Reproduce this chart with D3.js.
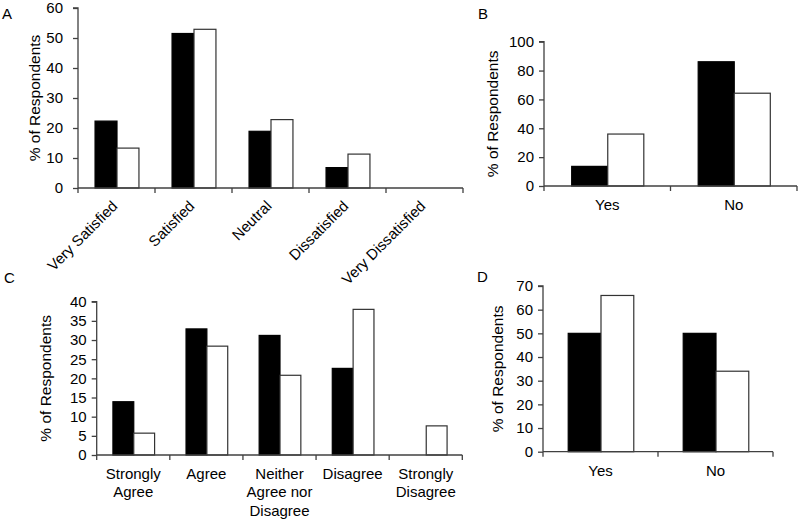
<!DOCTYPE html>
<html>
<head>
<meta charset="utf-8">
<script src="https://cdn.jsdelivr.net/npm/d3@7"></script>
<style>
  html, body { margin: 0; padding: 0; background: #fff; }
  text { font-family: "Liberation Sans", Arial, sans-serif; fill: #000; }
</style>
</head>
<body>
<svg id="chart" width="800" height="520"></svg>
<script>
// ---- Data ----
const catsA = ["Very Satisfied", "Satisfied", "Neutral", "Dissatisfied", "Very Dissatisfied"];
const blackA = [22.3, 51.5, 18.9, 6.8, 0];
const whiteA = [13.3, 52.9, 22.8, 11.3, 0];
const ticksA = [0, 10, 20, 30, 40, 50, 60];

const catsB = ["Yes", "No"];
const blackB = [13.6, 86.1];
const whiteB = [36.0, 64.3];
const ticksB = [0, 20, 40, 60, 80, 100];

const catsC = ["Strongly\nAgree", "Agree", "Neither\nAgree nor\nDisagree", "Disagree", "Strongly\nDisagree"];
const blackC = [13.9, 32.9, 31.2, 22.6, 0];
const whiteC = [5.7, 28.4, 20.8, 38.0, 7.6];
const ticksC = [0, 5, 10, 15, 20, 25, 30, 35, 40];

const catsD = ["Yes", "No"];
const blackD = [50, 50];
const whiteD = [66, 34];
const ticksD = [0, 10, 20, 30, 40, 50, 60, 70];

const seriesKeys = ["black", "white"];
const yTitle = "% of Respondents";

const svg = d3.select("#chart");
const AXIS_COLOR = "#404040";

function panel(cfg) {
  const g = svg.append("g");
  const x = d3.scaleBand().domain(cfg.cats.map((c, i) => i)).range([cfg.x0, cfg.x1])
    .paddingInner(0.43).paddingOuter(0.215);
  const xs = d3.scaleBand().domain(seriesKeys).range([0, x.bandwidth()]);
  const y = d3.scaleLinear().domain([0, cfg.ticks[cfg.ticks.length - 1]]).range([cfg.yBase, cfg.yTop]);

  const rows = cfg.cats.map((c, i) => ({ i, black: cfg.black[i], white: cfg.white[i] }));

  const grp = g.selectAll("g.cat").data(rows).join("g")
    .attr("transform", d => `translate(${x(d.i)},0)`);
  grp.selectAll("rect").data(d => seriesKeys.map(k => ({ k, v: d[k] })).filter(e => e.v > 0))
    .join("rect")
    .attr("x", e => xs(e.k) + 0.5)
    .attr("width", xs.bandwidth())
    .attr("y", e => y(e.v))
    .attr("height", e => y(0) - y(e.v))
    .attr("fill", e => e.k === "black" ? "#000" : "#fff")
    .attr("stroke", e => e.k === "black" ? "#000" : "#333")
    .attr("stroke-width", 1.2);

  // y axis
  const ya = g.append("g").attr("transform", `translate(${cfg.x0},0)`)
    .call(d3.axisLeft(y).tickValues(cfg.ticks).tickSize(5).tickPadding(cfg.tickPad).tickFormat(d3.format("d")));
  ya.selectAll("path,line").attr("stroke", AXIS_COLOR).attr("stroke-width", 1.3);
  ya.select(".domain").attr("d", `M-5,${cfg.yTop}H0V${cfg.yBase}`);
  ya.selectAll("text").attr("font-size", 15).attr("font-family", "Liberation Sans, Arial, sans-serif").attr("fill", "#000");

  // x axis with ticks at category boundaries
  const bounds = d3.range(cfg.cats.length + 1).map(i => cfg.x0 + i * x.step());
  g.append("line").attr("x1", cfg.x0).attr("x2", cfg.x1).attr("y1", cfg.yBase).attr("y2", cfg.yBase)
    .attr("stroke", AXIS_COLOR).attr("stroke-width", 1.3);
  g.selectAll("line.xt").data(bounds).join("line").attr("class", "xt")
    .attr("x1", d => d).attr("x2", d => d).attr("y1", cfg.yBase).attr("y2", cfg.yBase + 5)
    .attr("stroke", AXIS_COLOR).attr("stroke-width", 1.3);

  // category labels
  const cx = i => x(i) + x.bandwidth() / 2;
  if (cfg.rotate) {
    g.selectAll("text.cl").data(cfg.cats).join("text").attr("class", "cl")
      .attr("transform", (d, i) => `translate(${cx(i) + 2},${cfg.yBase + 19}) rotate(-45)`)
      .attr("text-anchor", "end").attr("font-size", 15).text(d => d);
  } else {
    cfg.cats.forEach((c, i) => {
      const t = g.append("text").attr("text-anchor", "middle").attr("font-size", 15)
        .attr("x", cx(i)).attr("y", cfg.yBase + cfg.labelDy);
      c.split("\n").forEach((ln, j) => {
        t.append("tspan").attr("x", cx(i)).attr("dy", j === 0 ? 0 : 18.5).text(ln);
      });
    });
  }

  // y title
  g.append("text").attr("transform", `translate(${cfg.titleX},${(cfg.yTop + cfg.yBase) / 2}) rotate(-90)`)
    .attr("text-anchor", "middle").attr("font-size", 15.5).text(yTitle);

  // panel letter
  g.append("text").attr("x", cfg.lx).attr("y", cfg.ly).attr("font-size", 15).text(cfg.letter);
}

panel({ cats: catsA, black: blackA, white: whiteA, ticks: ticksA, x0: 78, x1: 463, yBase: 188, yTop: 8,
  tickPad: 10, rotate: true, titleX: 40, letter: "A", lx: 2, ly: 19 });
panel({ cats: catsB, black: blackB, white: whiteB, ticks: ticksB, x0: 544, x1: 797, yBase: 186, yTop: 41.7,
  tickPad: 5, rotate: false, labelDy: 24, titleX: 498, letter: "B", lx: 478, ly: 19 });
panel({ cats: catsC, black: blackC, white: whiteC, ticks: ticksC, x0: 96.7, x1: 462.3, yBase: 455, yTop: 301.7,
  tickPad: 5, rotate: false, labelDy: 23.5, titleX: 51, letter: "C", lx: 4, ly: 283 });
panel({ cats: catsD, black: blackD, white: whiteD, ticks: ticksD, x0: 543, x1: 773, yBase: 451.7, yTop: 286,
  tickPad: 5, rotate: false, labelDy: 24, titleX: 503, letter: "D", lx: 477, ly: 282 });
</script>
</body>
</html>
